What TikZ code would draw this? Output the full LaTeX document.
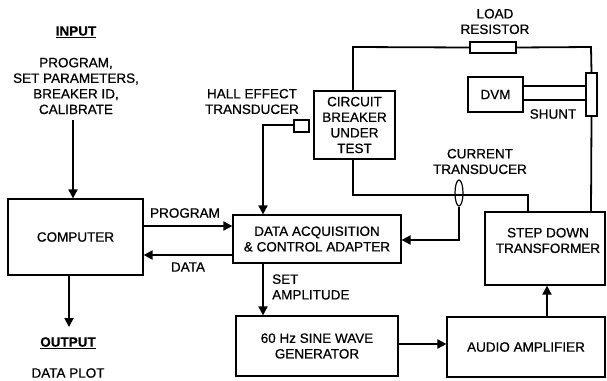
\documentclass[tikz,border=0pt]{standalone}
\usepackage{fontspec}
\setmainfont{Liberation Sans}[FakeBold=0.7]
\usetikzlibrary{arrows.meta,shapes.geometric}
\begin{document}
\begin{tikzpicture}[x=1pt,y=-1pt,
  font=\fontsize{13.5}{15.6}\selectfont,
  box/.style={draw, line width=1.2pt, inner sep=0pt, align=center},
  wire/.style={line width=1.8pt},
  arr/.style={wire, -{Triangle[length=9pt,width=9pt]}},
  lbl/.style={align=center, inner sep=0pt}]
\useasboundingbox (0,0) rectangle (607,380);
% boxes
\node[box, minimum width=135, minimum height=76] (comp) at (75.5,237) {COMPUTER};
\node[box, minimum width=168, minimum height=48] (daq) at (317,239) {DATA ACQUISITION\\\& CONTROL ADAPTER};
\node[box, minimum width=81, minimum height=68] (cb) at (354.5,125) {CIRCUIT\\BREAKER\\UNDER\\TEST};
\node[box, minimum width=162, minimum height=60] (sine) at (317,346) {60 Hz SINE WAVE\\GENERATOR};
\node[box, minimum width=120, minimum height=73] (xfmr) at (545,248.5) {};
\node[lbl] (xfmrtxt) at (548,240.5) {STEP DOWN\\TRANSFORMER};
\node[box, minimum width=158, minimum height=60] (amp) at (526,347) {AUDIO AMPLIFIER};
\node[box, minimum width=55, minimum height=35] (dvm) at (495.5,94.5) {DVM};
\node[box, minimum width=15, minimum height=12] (hall) at (301.5,126) {};
\node[box, minimum width=46, minimum height=11] (res) at (493,47.5) {};
\node[box, minimum width=11, minimum height=43] (shunt) at (591.5,94.5) {};
\node[draw, ellipse, line width=1.2pt, inner sep=0pt, minimum width=8, minimum height=26] (ct) at (459,193) {};
% coordinates
\coordinate (inTop) at (73,120);
\coordinate (outEnd) at (69,327);
% labels
\node[lbl, font=\fontsize{13.5}{15.6}\selectfont\bfseries] (inlbl) at (76,32) {\underline{INPUT}};
\node[lbl] (intxt) at (76,86) {PROGRAM,\\SET PARAMETERS,\\BREAKER ID,\\CALIBRATE};
\node[lbl, font=\fontsize{13.5}{15.6}\selectfont\bfseries] (outlbl) at (68,343) {\underline{OUTPUT}};
\node[lbl] (outtxt) at (68,373) {DATA PLOT};
\node[lbl] (proglbl) at (185,213) {PROGRAM};
\node[lbl] (datalbl) at (188,267) {DATA};
\node[lbl] (halllbl) at (252,101.5) {HALL EFFECT\\TRANSDUCER};
\node[lbl] (reslbl) at (495,21.5) {LOAD\\RESISTOR};
\node[lbl] (shuntlbl) at (553,114) {SHUNT};
\node[lbl] (ctlbl) at (480,161.5) {CURRENT\\TRANSDUCER};
\node[lbl, align=left, anchor=west] (setlbl) at (272,287) {SET\\AMPLITUDE};
% wires
\draw[wire] (cb.north -| 353,0) -- (353,47) -- (res.west);
\draw[wire] (res.east) -- (591,47) -- (shunt.north);
\draw[wire] (shunt.south) -- (xfmr.north -| 591,0);
\draw[wire] (cb.south -| 353,0) -- (353,195) -- (528,195) -- (xfmr.north -| 528,0);
\draw[arr] (ct.south) -- (459,240) -- (daq.east |- 0,240);
\draw[wire] (dvm.east |- 0,86) -- (shunt.west |- 0,86);
\draw[wire] (dvm.east |- 0,100) -- (shunt.west |- 0,100);
\draw[arr] (hall.west |- 0,125) -- (263,125) -- (daq.north -| 263,0);
\draw[arr] (inTop) -- (comp.north -| inTop);
\draw[arr] (comp.east |- 0,226) -- (daq.west |- 0,226);
\draw[arr] (daq.west |- 0,255) -- (comp.east |- 0,255);
\draw[arr] (comp.south -| outEnd) -- (outEnd);
\draw[arr] (daq.south -| 263,0) -- (sine.north -| 263,0);
\draw[arr] (sine.east |- 0,344) -- (amp.west |- 0,344);
\draw[arr] (amp.north -| 547,0) -- (xfmr.south -| 547,0);
\end{tikzpicture}
\end{document}
